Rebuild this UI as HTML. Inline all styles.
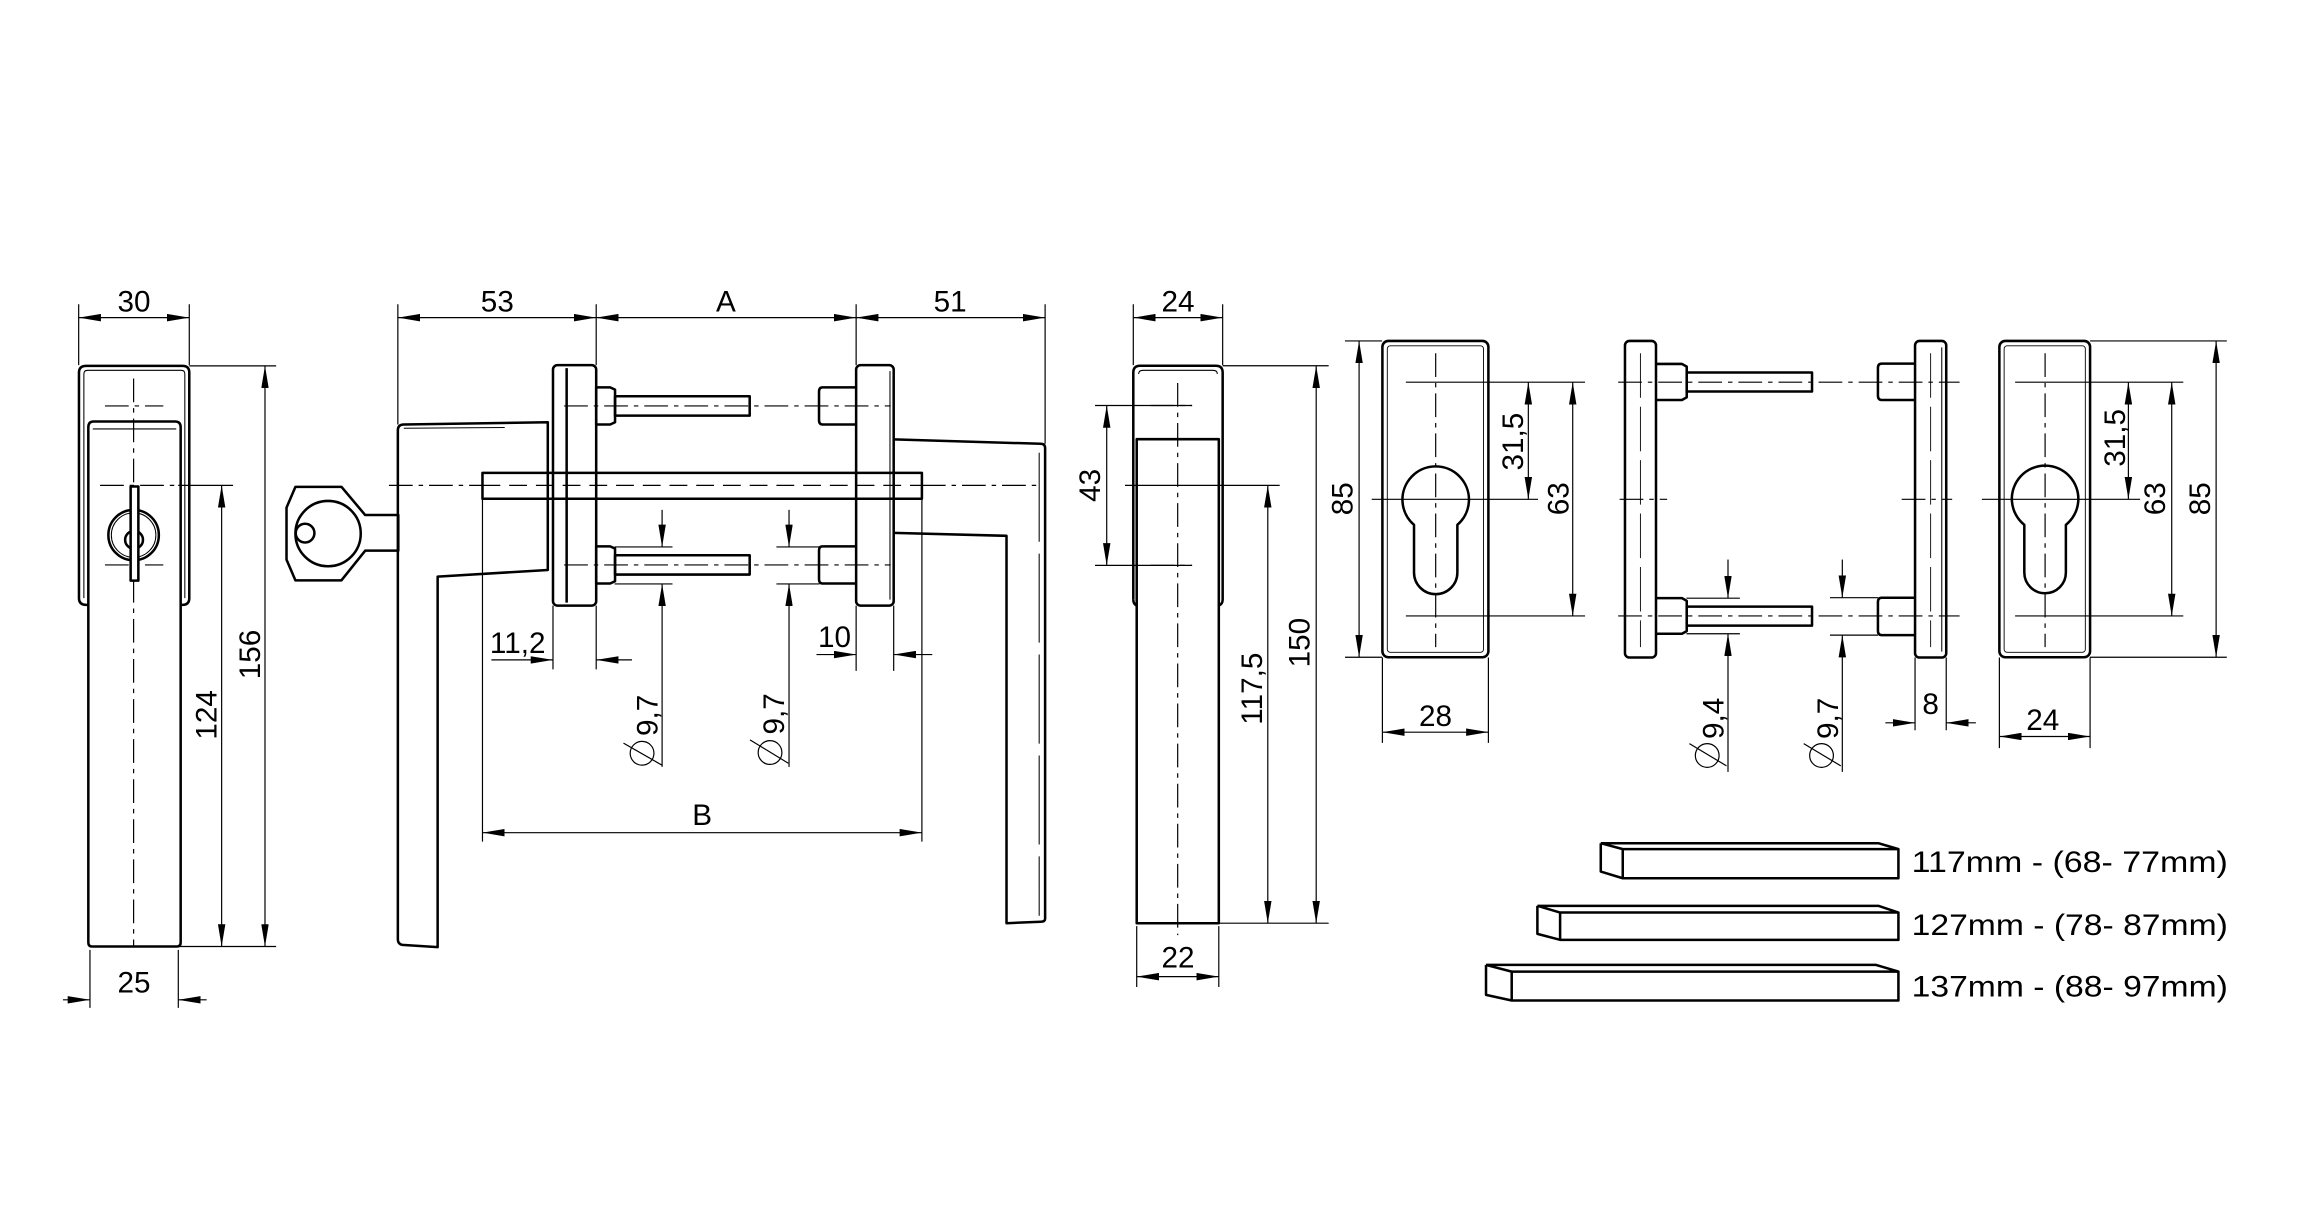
<!DOCTYPE html>
<html><head><meta charset="utf-8"><style>
html,body{margin:0;padding:0;background:#fff;}
svg{display:block}
text{font-family:"Liberation Sans",Arial,sans-serif;font-size:20px;fill:#000}
.m{text-anchor:middle}
</style></head><body>
<svg width="2304" height="1226" viewBox="0 0 1552 826" preserveAspectRatio="none" xmlns="http://www.w3.org/2000/svg">
<defs>
<marker id="a" viewBox="0 0 15 5" refX="15" refY="2.5" markerWidth="15" markerHeight="5" markerUnits="userSpaceOnUse" orient="auto-start-reverse"><path d="M0,0L15,2.5L0,5z" fill="#000"/></marker>
</defs>
<rect width="1552" height="826" fill="#fff"/>
<g fill="none" stroke="#000" stroke-width="0.8">
<!-- extension lines -->
<path d="M53,205V246M127.5,205V246M60.6,640V679M120.1,640V679M127.5,246.5H186M120,637.7H186M120,327H157
M268,205V286M401.6,205V246M576.7,205V246M704,205V299
M763.4,205V246M823.6,205V246M765.7,624V665M821,624V665M823.6,246.4H895M821,622H895M737.6,273.2H803M737.6,380.9H803M757.8,327H862
M372.5,408V451M401.6,408V451M576.7,408V452M602,408V452M325,336V567M621,336V567
M414,368.5H453M414,393.4H453M523,368.5H552M523,393.4H552
M931.2,443V500.5M1002.6,443V500.5M906,229.7H931M906,442.8H931M947,257.5H1067.7M947,415H1067.7M924,336.4H1036
M1346.8,443V504M1407.9,443V504M1407.9,229.7H1500M1407.9,442.8H1500M1357.4,257.5H1470.7M1357.4,415H1470.7M1335,336.4H1441.6
M1290,443V492M1311,443V492
M1136,403H1172M1136,427H1172M1232.7,402.7H1265M1232.7,427.9H1265"/>
<!-- dims both ends -->
<g marker-start="url(#a)" marker-end="url(#a)">
<path d="M53,214H127.5"/><path d="M178.5,246.5V637.7"/><path d="M149.3,327V637.7"/>
<path d="M268,214H401.6"/><path d="M401.6,214H576.7"/><path d="M576.7,214H704"/>
<path d="M325,561H621"/>
<path d="M763.4,214H823.6"/><path d="M765.7,658H821"/><path d="M745.5,273.2V380.9"/><path d="M854,327V622"/><path d="M886.6,246.4V622"/>
<path d="M915.5,229.7V442.8"/><path d="M1059.4,257.5V415"/><path d="M931.2,493.3H1002.6"/><path d="M1029.5,257.5V336.4"/>
<path d="M1346.8,496.2H1407.9"/><path d="M1492.8,229.7V442.8"/><path d="M1462.9,257.5V415"/><path d="M1433.7,257.5V336.4"/>
</g>
<g marker-end="url(#a)">
<path d="M42.4,673.6H60.6"/><path d="M139.2,673.6H120.1"/>
<path d="M331,444.6H372.5"/><path d="M425.7,444.6H401.6"/>
<path d="M550,441H576.7"/><path d="M628,441H602"/>
<path d="M446,343.5V368.5"/><path d="M446,516.7V393.4"/>
<path d="M531.5,343.5V368.5"/><path d="M531.5,516.7V393.4"/>
<path d="M1164,377V403"/><path d="M1164,520V427"/>
<path d="M1241,377V402.7"/><path d="M1241,520V427.9"/>
<path d="M1270,487H1290"/><path d="M1331,487H1311"/>
</g>
<!-- diameter symbols -->
<circle cx="432.5" cy="507.5" r="8"/><path d="M420,500.7L445.7,515.4"/>
<circle cx="518.7" cy="507" r="8"/><path d="M505.2,498.5L531,514.2"/>
<circle cx="1150" cy="509" r="8"/><path d="M1138,501L1163,516"/>
<circle cx="1227" cy="509" r="8"/><path d="M1215,501L1240,516"/>
<!-- centre lines -->
<g stroke-dasharray="16,4,3,4">
<path d="M90,255V638M70.7,273.5H110M70.7,380.6H110M67.4,327H120"/>
<path d="M262,327H325M621,327H700"/>
<path d="M793.3,258V630M775,273.2H803M775,380.9H803"/>
<path d="M967.1,238V436M1377.6,238V436"/>
<path d="M1090,257.5H1320M1090,415H1320M1091,336.4H1123M1281,336.4H1315"/>
<path d="M380,273.5H600M380,380.6H600"/>
</g>
<path d="M325,327H621" stroke-dasharray="12,6"/>
<path d="M1105,238V436M1300.5,238V436" stroke-dasharray="30,6" stroke-width="0.6"/>
</g>
<g fill="none" stroke="#000" stroke-width="1.7" stroke-linejoin="round">
<!-- view 1 -->
<path d="M53.2,403V251Q53.2,246.5 58,246.5H123Q127.5,246.5 127.5,251V403Q127.5,407.5 123,407.5H121.7M53.2,403Q53.2,407.5 58,407.5H59.5"/>
<path d="M56.5,403V252Q56.5,249.5 59,249.5H122Q124.5,249.5 124.5,252V403" stroke-width="0.7"/>
<path d="M59.5,288Q59.5,284 63,284H118Q121.7,284 121.7,288V635Q121.7,637.7 119,637.7H62Q59.5,637.7 59.5,635Z"/>
<path d="M62.5,289H118.7" stroke-width="0.7"/>
<circle cx="90" cy="360.5" r="17"/>
<circle cx="90" cy="360.5" r="15" stroke-width="0.7"/>
<circle cx="90.3" cy="363.7" r="6"/>
<rect x="88" y="327.8" width="5.2" height="63.4" fill="#fff"/>
<!-- view 2 left lever -->
<path d="M268,290Q268,286 272,286L369,284.5V384L294.8,388.5V638.1L271,636.6Q268,636 268,633Z"/>
<path d="M272,288.5L340,288" stroke-width="0.7"/>
<rect x="372.5" y="246" width="29.1" height="162" rx="3"/>
<path d="M381.7,248V406"/>
<path d="M401.6,261H411L414.3,262.5V284.5L411,286H401.6Z"/><rect x="414.3" y="267" width="90.7" height="13"/>
<path d="M401.6,368.1H411L414.3,369.6V391.6L411,393.1H401.6Z"/><rect x="414.3" y="374.1" width="90.7" height="13"/>
<rect x="325" y="318.6" width="296" height="17.4"/>
<rect x="576.7" y="246" width="25.3" height="162" rx="3"/>
<path d="M599.5,250V404" stroke-width="0.7"/>
<path d="M576.7,261H554Q551.7,261 551.7,264V283Q551.7,286 554,286H576.7"/>
<path d="M576.7,368.1H554Q551.7,368.1 551.7,371V390Q551.7,393.1 554,393.1H576.7"/>
<path d="M602,296L701,299Q704,299 704,302V619Q704,621 701,621L678,622V361L602,359"/>
<path d="M700,305V617" stroke-width="0.7" stroke-dasharray="60,8"/>
<!-- key -->
<path d="M199,328H230L246,347H268.3V371H246L230,391H199L193,377V342Z"/>
<circle cx="221" cy="359.5" r="22"/>
<circle cx="205.5" cy="359.2" r="6.3"/>
<!-- view 3 -->
<path d="M763.4,404V251Q763.4,246.4 768,246.4H819Q823.6,246.4 823.6,251V404Q823.6,407 821,408"/>
<path d="M763.4,404Q763.4,407 765.7,408"/>
<rect x="765.7" y="295.9" width="55.3" height="326.1"/>
<path d="M767,252Q767,249.5 770,249.5H817Q820,249.5 820,252" stroke-width="0.7"/>
<!-- view 4 -->
<rect x="931.2" y="229.7" width="71.4" height="213.1" rx="4"/>
<rect x="934.5" y="233" width="64.8" height="206.5" rx="2" stroke-width="0.6"/>
<path d="M952.5,353.6A22.4,22.4 0 1 1 981.7,353.6V385.7A14.6,14.6 0 0 1 952.5,385.7Z"/>
<!-- view 5 -->
<rect x="1094.6" y="229.7" width="20.9" height="213.3" rx="3"/>
<path d="M1115.5,245.2H1133L1136.2,247V267.7L1133,269.5H1115.5"/><rect x="1136.2" y="251" width="84.4" height="12.8"/>
<path d="M1115.5,403H1133L1136.2,404.8V425.2L1133,427H1115.5"/><rect x="1136.2" y="408.7" width="84.4" height="12.8"/>
<!-- view 6 -->
<rect x="1290" y="229.7" width="21" height="213.3" rx="3"/>
<path d="M1308,234V439" stroke-width="0.7"/>
<path d="M1290,245H1267.5Q1265,245 1265,248V266.5Q1265,269.5 1267.5,269.5H1290"/>
<path d="M1290,402.7H1267.5Q1265,402.7 1265,405.7V425Q1265,427.9 1267.5,427.9H1290"/>
<!-- view 7 -->
<rect x="1346.8" y="229.7" width="61.1" height="213.1" rx="4"/>
<rect x="1350" y="233" width="54.7" height="206.5" rx="2" stroke-width="0.6"/>
<path d="M1363.6,353.6A22.4,22.4 0 1 1 1391.6,353.6V385.7A14,14 0 0 1 1363.6,385.7Z"/>
<!-- bars -->
<path d="M1093.1,572.1H1278.8V591.7H1093.1Z M1078.3,568.1H1265.3L1278.8,572.1 M1078.3,568.1L1093.1,572.1 M1078.3,568.1V587.2L1093.1,591.7"/>
<path d="M1050.9,614.8H1278.8V633.2H1050.9Z M1035.6,610.3H1265.3L1278.8,614.8 M1035.6,610.3L1050.9,614.8 M1035.6,610.3V629.2L1050.9,633.2"/>
<path d="M1018.3,654.6H1278.8V674.1H1018.3Z M1001,650.1H1263.7L1278.8,654.6 M1001,650.1L1018.3,654.6 M1001,650.1V670.3L1018.3,674.1"/>
</g>
<text class="m" x="90.3" y="210">30</text>
<text class="m" x="90.3" y="668.7">25</text>
<text class="m" x="335" y="210">53</text>
<text class="m" x="489" y="210">A</text>
<text class="m" x="640" y="210">51</text>
<text class="m" x="793.5" y="210">24</text>
<text class="m" x="793.5" y="652">22</text>
<text x="330" y="440">11,2</text>
<text x="551" y="436">10</text>
<text class="m" x="473" y="556">B</text>
<text class="m" x="967" y="489">28</text>
<text class="m" x="1376" y="491.8">24</text>
<text class="m" x="1300.5" y="481">8</text>
<text class="m" transform="translate(175,441) rotate(-90)">156</text>
<text class="m" transform="translate(146,481.6) rotate(-90)">124</text>
<text class="m" transform="translate(741,327) rotate(-90)">43</text>
<text class="m" transform="translate(850,464) rotate(-90)">117,5</text>
<text class="m" transform="translate(882,433) rotate(-90)">150</text>
<text class="m" transform="translate(911,336) rotate(-90)">85</text>
<text class="m" transform="translate(1026,297.5) rotate(-90)">31,5</text>
<text class="m" transform="translate(1056.4,336) rotate(-90)">63</text>
<text class="m" transform="translate(1431.4,295) rotate(-90)">31,5</text>
<text class="m" transform="translate(1458.4,336) rotate(-90)">63</text>
<text class="m" transform="translate(1488.7,336) rotate(-90)">85</text>
<g style="font-size:22px">
<text class="m" transform="translate(443,482) rotate(-90)">9,7</text>
<text class="m" transform="translate(528,481) rotate(-90)">9,7</text>
<text class="m" transform="translate(1161,484) rotate(-90)">9,4</text>
<text class="m" transform="translate(1238,484) rotate(-90)">9,7</text>
</g>
<g style="font-size:21.5px">
<text x="1287.7" y="587.6" textLength="213" lengthAdjust="spacingAndGlyphs">117mm - (68- 77mm)</text>
<text x="1287.7" y="629.9" textLength="213" lengthAdjust="spacingAndGlyphs">127mm - (78- 87mm)</text>
<text x="1287.7" y="671.4" textLength="213" lengthAdjust="spacingAndGlyphs">137mm - (88- 97mm)</text>
</g>
</svg>
</body></html>
